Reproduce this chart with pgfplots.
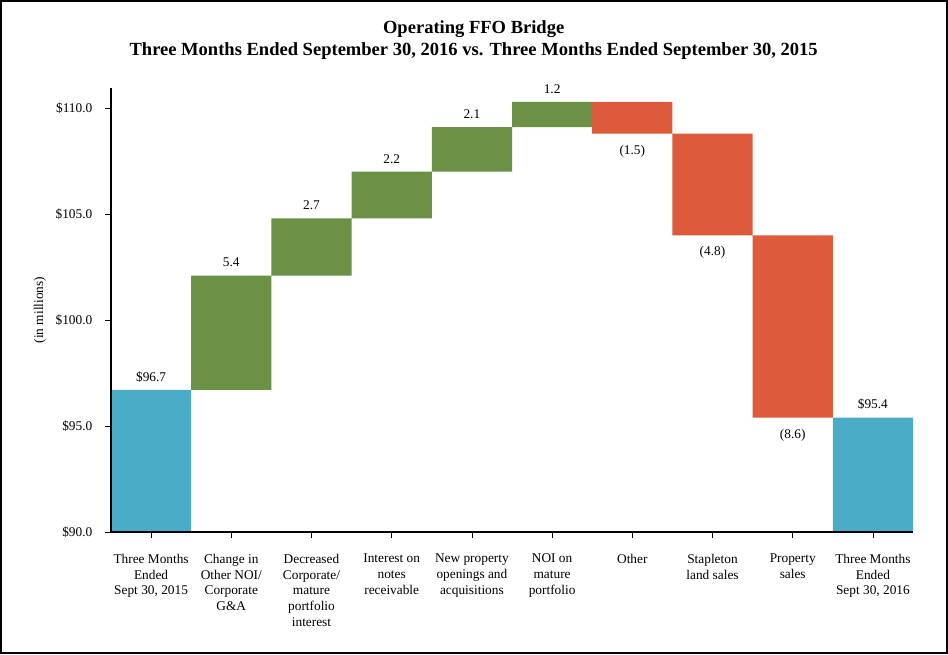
\documentclass[border=0pt]{standalone}
\usepackage{pgfplots}
\usepackage{pgfplotstable}
\pgfplotsset{compat=1.18}
\usepackage{fontspec}
\setmainfont{Liberation Serif}
\definecolor{cblue}{RGB}{75,172,200}
\definecolor{cgreen}{RGB}{106,145,69}
\definecolor{cred}{RGB}{221,91,58}
% bar segments: invisible base + visible change
\pgfplotstableread{
x base blue green red
0 0 96.7 0 0
1 96.7 0 5.4 0
2 102.1 0 2.7 0
3 104.8 0 2.2 0
4 107.0 0 2.1 0
5 109.1 0 1.2 0
6 108.8 0 0 1.5
7 104.0 0 0 4.8
8 95.4 0 0 8.6
9 0 95.4 0 0
}\bridge
% labels above bar tops
\pgfplotstableread{
x y lab
0 96.7 {\$96.7}
1 102.1 5.4
2 104.8 2.7
3 107.0 2.2
4 109.1 2.1
5 110.3 1.2
9 95.4 {\$95.4}
}\uplabels
% labels below bar bottoms
\pgfplotstableread{
x y lab
6 108.8 (1.5)
7 104.0 (4.8)
8 95.4 (8.6)
}\downlabels
\pgfplotsset{
  bridgeaxis/.style={
    scale only axis,
    width=601.5pt, height=333pt,
    xmin=-0.5, xmax=9.5,
    ymin=90, ymax=110.95,
  }
}
\begin{document}
\begin{tikzpicture}
\begin{axis}[
  bridgeaxis,
  axis on top,
  ybar stacked, bar width=1,
  axis x line*=bottom, axis y line*=left,
  axis line style={line width=1.2pt, black},
  tick align=outside,
  major tick length=4.5pt,
  tick style={black, line width=0.6pt},
  xtick={0,...,9},
  xticklabels={{Three Months\\Ended\\Sept 30, 2015},{Change in\\Other NOI/\\Corporate\\G\&A},{Decreased\\Corporate/\\mature\\portfolio\\interest},{Interest on\\notes\\receivable},{New property\\openings and\\acquisitions},{NOI on\\mature\\portfolio},{Other},{Stapleton\\land sales},{Property\\sales},{Three Months\\Ended\\Sept 30, 2016}},
  xticklabel style={align=center, font=\fontsize{10}{11.8}\selectfont, yshift=-8.5pt},
  ytick={90,95,100,105,110},
  yticklabel={\$\pgfmathprintnumber[fixed,fixed zerofill,precision=1]{\tick}},
  yticklabel style={font=\fontsize{10}{12}\selectfont, xshift=-6pt},
  /pgf/number format/assume math mode=true,
]
\addplot[draw=none, fill=none] table[x=x, y=base] {\bridge};
\addplot[draw=none, fill=cblue] table[x=x, y=blue] {\bridge};
\addplot[draw=none, fill=cgreen] table[x=x, y=green] {\bridge};
\addplot[draw=none, fill=cred] table[x=x, y=red] {\bridge};
\end{axis}
\begin{axis}[
  bridgeaxis, hide axis, clip=false,
  every node near coord/.append style={text=black, font=\fontsize{10}{12}\selectfont, anchor=center},
]
\addplot[draw=none, mark=none, point meta=explicit symbolic,
  nodes near coords, every node near coord/.append style={yshift=9.75pt}]
  table[x=x, y=y, meta=lab] {\uplabels};
\addplot[draw=none, mark=none, point meta=explicit symbolic,
  nodes near coords, every node near coord/.append style={yshift=-13pt}]
  table[x=x, y=y, meta=lab] {\downlabels};
\end{axis}
\node[font=\bfseries\fontsize{13.9}{16}\selectfont, anchor=base] at (272pt,373.5pt) {Operating FFO Bridge};
\node[font=\bfseries\fontsize{13.9}{16}\selectfont, anchor=base] at (272pt,357pt) {Three Months Ended September 30, 2016 vs. Three Months Ended September 30, 2015};
\node[rotate=90, font=\fontsize{10}{12}\selectfont] at (-53.25pt,166.5pt) {(in millions)};
\pgfresetboundingbox
\useasboundingbox (-83.25pt,-91.5pt) rectangle (627.75pt,399pt);
\draw[line width=1.5pt] (-82.5pt,-90.75pt) rectangle (627pt,398.25pt);
\end{tikzpicture}
\end{document}
